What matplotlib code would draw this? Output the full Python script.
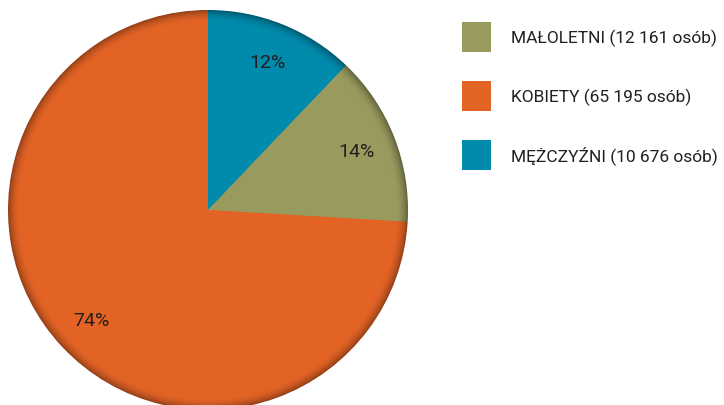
import numpy as np
import matplotlib
matplotlib.use('Agg')
import matplotlib.pyplot as plt
from matplotlib.colors import to_rgb

plt.rcParams['font.family'] = ['Roboto', 'DejaVu Sans']

# data, in legend order
labels = ['MAŁOLETNI (12 161 osób)', 'KOBIETY (65 195 osób)', 'MĘŻCZYŹNI (10 676 osób)']
counts = [12161, 65195, 10676]
colors = ['#989A5E', '#E36325', '#008AAC']

# pie order going clockwise from 12 o'clock: mezczyzni, maloletni, kobiety
pie_order = [2, 0, 1]
pie_counts = [counts[i] for i in pie_order]
pie_colors = [colors[i] for i in pie_order]

W, H = 724, 406
fig = plt.figure(figsize=(W / 100, H / 100), dpi=100)
ax = fig.add_axes([8 / W, (H - 411) / H, 400 / W, 400 / H])

# darker rim: draw shrinking pies, from dark to base colour
nsteps = 20
dr = 0.003
for k in range(nsteps):
    r = 1.0 - k * dr
    f = 1.0 - 0.35 * (1 - k / nsteps) ** 2
    shade = [tuple(c * f for c in to_rgb(col)) for col in pie_colors]
    ax.pie(pie_counts, colors=shade, startangle=90, counterclock=False, radius=r,
           wedgeprops=dict(linewidth=0))

wedges, texts, autotexts = ax.pie(pie_counts, colors=pie_colors, startangle=90, counterclock=False,
                                  radius=1.0 - nsteps * dr, autopct='%.0f%%', pctdistance=0.85,
                                  wedgeprops=dict(linewidth=0),
                                  textprops=dict(fontsize=14, color='#231F20'))
ax.set_xlim(-1, 1)
ax.set_ylim(-1, 1)
ax.set_aspect('equal')
ax.axis('off')

# legend in legend order
handles = [wedges[pie_order.index(i)] for i in range(3)]
leg = fig.legend(handles, labels, loc='upper left', bbox_to_anchor=(462 / W, 1 - 23 / H),
                 frameon=False, fontsize=12.5, handlelength=1.67, handleheight=2.25,
                 labelspacing=1.7, handletextpad=1.17, borderaxespad=0, borderpad=0)
for h in leg.legend_handles:
    h.set_edgecolor('none')
for t in leg.get_texts():
    t.set_color('#231F20')

fig.savefig('out.png', dpi=100)
